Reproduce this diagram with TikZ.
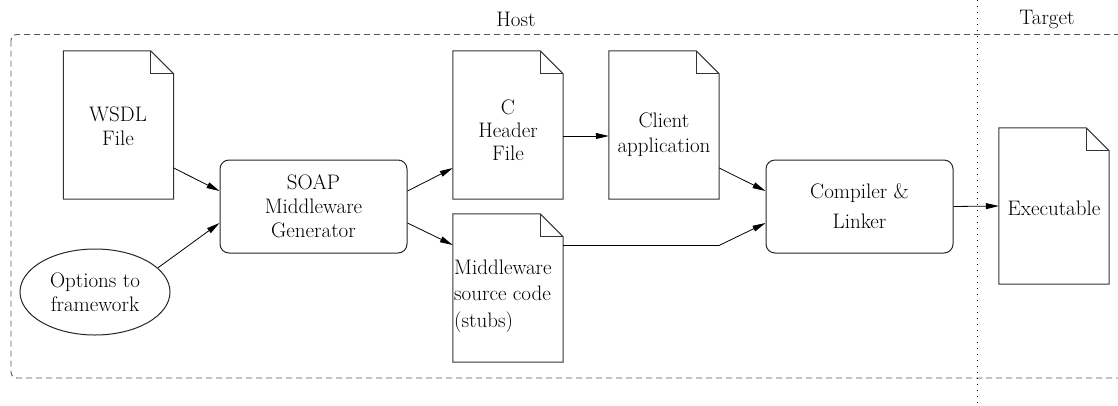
\documentclass[tikz,border=0pt]{standalone}
\usetikzlibrary{arrows.meta,shapes.geometric}

\tikzset{
  every node/.style={font=\fontsize{21}{24}\selectfont},
  txt/.style={align=center, inner sep=0pt},
  docbox/.style={minimum width=110pt, minimum height=148pt, inner sep=0pt, draw=none},
  docline/.style={draw=black!80, line width=1pt, line join=miter},
  proc/.style={draw=black!85, line width=1pt, rounded corners=9pt,
    minimum width=187pt, minimum height=93pt, inner sep=0pt, align=center},
  flow/.style={-{Triangle[length=13pt,width=6pt]}, line width=0.8pt, black},
  frame/.style={draw=black!65, line width=0.9pt, dash pattern=on 6pt off 4pt, rounded corners=6pt},
  split/.style={draw=black, line width=0.9pt, dash pattern=on 1pt off 5pt}
}

% dog-eared page outline around a node
\newcommand\pageoutline[1]{%
  \draw[docline] (#1.south west) -- (#1.north west) -- ([xshift=-23pt]#1.north east)
    -- ([yshift=-23pt]#1.north east) -- (#1.south east) -- cycle;
  \draw[docline] ([xshift=-23pt]#1.north east) |- ([yshift=-23pt]#1.north east);
}

\begin{document}
\begin{tikzpicture}[x=1pt, y=-1pt]
  \clip (0,0) rectangle (1118,405);

  % Host area and host/target separation
  \draw[frame] (11,34.5) rectangle (1124,378);
  \coordinate (sepTop) at (977,0);
  \coordinate (sepBot) at (977,405);
  \draw[split] (sepTop) -- (sepBot);
  \node[txt] (host) at (516,19) {Host};
  \node[txt] (target) at (1047,19) {Target};

  % documents
  \node[docbox] (wsdl) at (118.5,125) {};
  \node[docbox] (hdr)  at (508,125) {};
  \node[docbox] (cli)  at (664,125) {};
  \node[docbox] (mw)   at (508,288) {};
  \node[docbox, minimum height=156pt] (exe) at (1054,206) {};
  \pageoutline{wsdl}
  \pageoutline{hdr}
  \pageoutline{cli}
  \pageoutline{mw}
  \pageoutline{exe}

  \node[txt] (wsdlText) at (118,126) {WSDL\\File};
  \node[txt, font=\fontsize{21}{23}\selectfont] (hdrText) at (508,130) {C\\Header\\File};
  \node[txt, font=\fontsize{21}{25}\selectfont] (cliText) at (664,135) {Client\\application};
  \node[txt, align=left, anchor=west, font=\fontsize{21}{26.5}\selectfont] (mwText) at (454,296)
    {Middleware\\source code\\(stubs)};
  \node[txt] (exeText) at (1054,208) {Executable};

  % processing steps
  \node[proc] (soap) at (313.5,206.5) {SOAP\\Middleware\\Generator};
  \node[proc, font=\fontsize{21}{30}\selectfont] (cl) at (859.5,206.5) {Compiler \&\\Linker};
  \node[ellipse, draw=black!85, line width=1pt, minimum width=150pt, minimum height=86pt,
        inner sep=0pt, align=center] (opt) at (95,292) {Options to\\framework};

  % data flow
  \draw[flow] ([yshift=-43pt]wsdl.east) -- ([yshift=15.5pt]soap.west);
  \draw[flow] (opt.21) -- ([yshift=-16.5pt]soap.west);
  \draw[flow] ([yshift=15.5pt]soap.east) -- ([yshift=-43pt]hdr.west);
  \draw[flow] ([yshift=-16.5pt]soap.east) -- ([yshift=43pt]mw.west);
  \draw[flow] ([yshift=-11pt]hdr.east) -- ([yshift=-11pt]cli.west);
  \draw[flow] ([yshift=-43pt]cli.east) -- ([yshift=15.5pt]cl.west);
  \coordinate (bend) at (719,245.5);
  \draw[flow] ([yshift=42.5pt]mw.east) -- (bend) -- ([yshift=-16.5pt]cl.west);
  \draw[flow] (cl.east) -- (exe.west);
\end{tikzpicture}
\end{document}
